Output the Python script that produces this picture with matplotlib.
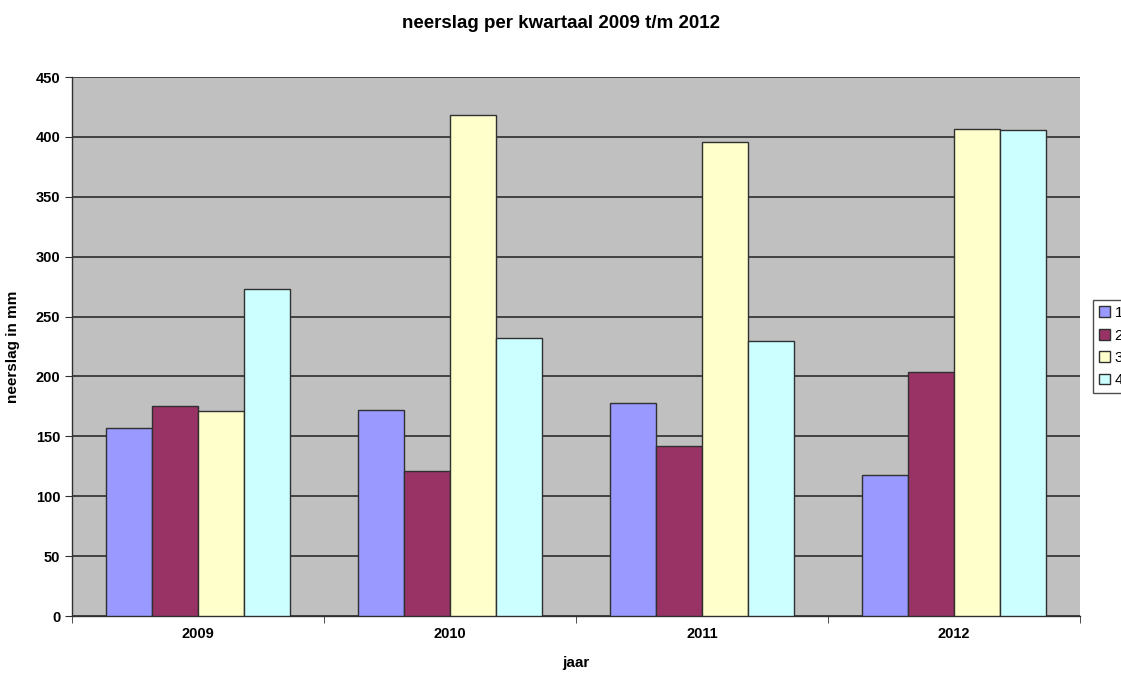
import numpy as np
import matplotlib
matplotlib.use("Agg")
from matplotlib import pyplot as plt

jaren = ['2009', '2010', '2011', '2012']
kwartalen = ['1', '2', '3', '4']
neerslag_k1 = [157, 172, 178, 118]
neerslag_k2 = [175, 121, 142, 204]
neerslag_k3 = [171, 418, 396, 407]
neerslag_k4 = [273, 232, 230, 406]
kleuren = ['#9999FF', '#993366', '#FFFFCC', '#CCFFFF']

plt.rcParams['font.family'] = ['Liberation Sans', 'DejaVu Sans']
plt.rcParams['font.weight'] = 'bold'

fig = plt.figure(figsize=(11.21, 6.75), dpi=100)
ax = fig.add_axes([0.0642, 0.0874, 0.8992, 0.7985])
ax.set_facecolor('#C0C0C0')

series = [neerslag_k1, neerslag_k2, neerslag_k3, neerslag_k4]
x = np.arange(len(jaren))
w = 0.1825
for i, vals in enumerate(series):
    ax.bar(x + (i - 1.5) * w, vals, w, color=kleuren[i], edgecolor='#303030',
           linewidth=1.0, label=kwartalen[i], zorder=3)

ax.set_xlim(-0.5, len(jaren) - 0.5)
ax.set_ylim(0, 450)
ax.set_yticks(np.arange(0, 451, 50))
ax.yaxis.grid(True, color='#202020', linewidth=1.1, zorder=1)
ax.set_axisbelow(True)

ax.set_xticks(x)
ax.set_xticklabels(jaren, fontsize=10.5, fontweight='bold')
ax.set_xticks(np.arange(-0.5, len(jaren)), minor=True)
ax.tick_params(axis='x', which='major', length=0, pad=8)
ax.tick_params(axis='x', which='minor', length=5, direction='out', color='#303030')
ax.tick_params(axis='y', length=5, direction='out', labelsize=10.5, color='#303030')
for lbl in ax.get_yticklabels():
    lbl.set_fontweight('bold')

for s in ['top', 'right']:
    ax.spines[s].set_visible(False)
for s in ['left', 'bottom']:
    ax.spines[s].set_color('#303030')
    ax.spines[s].set_linewidth(1.0)

ax.set_xlabel('jaar', fontsize=11, fontweight='bold', labelpad=11)
ax.set_ylabel('neerslag in mm', fontsize=11, fontweight='bold', labelpad=11)
fig.suptitle('neerslag per kwartaal 2009 t/m 2012', x=0.5, y=0.978,
             fontsize=13.5, fontweight='bold')

leg = fig.legend(loc='upper left', bbox_to_anchor=(1093 / 1121, 1 - 300 / 675),
                 fontsize=11, frameon=True, fancybox=False, handlelength=0.7,
                 handleheight=0.7, handletextpad=0.3, labelspacing=0.55,
                 borderpad=0.4, borderaxespad=0, prop={'weight': 'normal', 'size': 11})
leg.get_frame().set_edgecolor('#202020')
leg.get_frame().set_linewidth(1.0)

fig.savefig('out.png', dpi=100)
